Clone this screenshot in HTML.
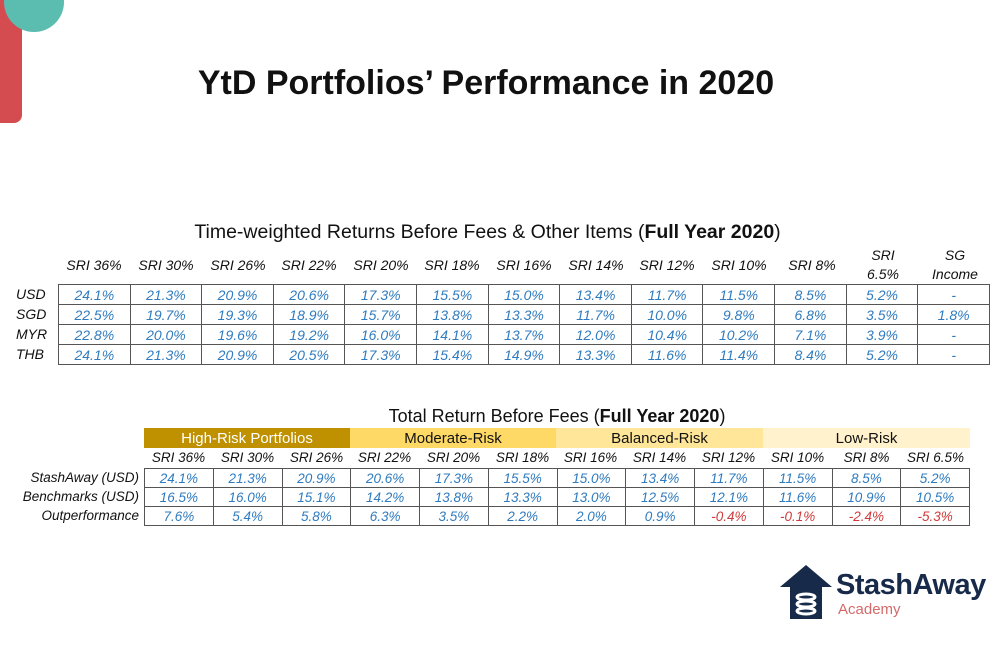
<!DOCTYPE html>
<html><head><meta charset="utf-8"><style>
*{margin:0;padding:0;box-sizing:border-box}
body{width:1000px;height:650px;background:#fff;position:relative;overflow:hidden;font-family:"Liberation Sans",Arial,sans-serif;color:#111}
.abs{position:absolute}
table{border-collapse:collapse;table-layout:fixed;position:absolute}
td{text-align:center;font-style:italic;font-size:14px;color:#2f7bbf;padding:0;white-space:nowrap}
.t1 td{border:1px solid #555;height:20px}
.t2 td{border:1px solid #555;height:19px;font-size:13.5px}
.r{color:#d03a3a!important}
.hdr{font-style:italic;font-size:14px;color:#111;text-align:center;position:absolute}
.lab{font-style:italic;font-size:14px;color:#111;position:absolute}
</style></head><body>
<div class="abs" style="left:0;top:0;width:22px;height:123px;background:#d44b50;border-bottom-right-radius:8px"></div>
<div class="abs" style="left:4px;top:-28px;width:60px;height:60px;border-radius:50%;background:#5bbcb0"></div>
<div class="abs" style="left:0;width:972px;top:64px;text-align:center;font-size:34px;font-weight:bold">YtD Portfolios’ Performance in 2020</div>

<div class="abs" style="left:0;width:975px;top:221px;text-align:center;font-size:19.5px">Time-weighted Returns Before Fees &amp; Other Items (<b>Full Year 2020</b>)</div>
<div class="hdr" style="left:58px;top:257px;width:72px">SRI 36%</div>
<div class="hdr" style="left:130px;top:257px;width:72px">SRI 30%</div>
<div class="hdr" style="left:202px;top:257px;width:72px">SRI 26%</div>
<div class="hdr" style="left:273px;top:257px;width:72px">SRI 22%</div>
<div class="hdr" style="left:345px;top:257px;width:72px">SRI 20%</div>
<div class="hdr" style="left:416px;top:257px;width:72px">SRI 18%</div>
<div class="hdr" style="left:488px;top:257px;width:72px">SRI 16%</div>
<div class="hdr" style="left:560px;top:257px;width:72px">SRI 14%</div>
<div class="hdr" style="left:631px;top:257px;width:72px">SRI 12%</div>
<div class="hdr" style="left:703px;top:257px;width:72px">SRI 10%</div>
<div class="hdr" style="left:776px;top:257px;width:72px">SRI 8%</div>
<div class="hdr" style="left:847px;top:246px;width:72px;line-height:19px">SRI<br>6.5%</div>
<div class="hdr" style="left:919px;top:246px;width:72px;line-height:19px">SG<br>Income</div>
<div class="lab" style="left:16px;top:286px">USD</div>
<div class="lab" style="left:16px;top:306px">SGD</div>
<div class="lab" style="left:16px;top:326px">MYR</div>
<div class="lab" style="left:16px;top:346px">THB</div>
<table class="t1" style="left:58px;top:284px;width:932px">
<tr><td>24.1%</td><td>21.3%</td><td>20.9%</td><td>20.6%</td><td>17.3%</td><td>15.5%</td><td>15.0%</td><td>13.4%</td><td>11.7%</td><td>11.5%</td><td>8.5%</td><td>5.2%</td><td>-</td></tr>
<tr><td>22.5%</td><td>19.7%</td><td>19.3%</td><td>18.9%</td><td>15.7%</td><td>13.8%</td><td>13.3%</td><td>11.7%</td><td>10.0%</td><td>9.8%</td><td>6.8%</td><td>3.5%</td><td>1.8%</td></tr>
<tr><td>22.8%</td><td>20.0%</td><td>19.6%</td><td>19.2%</td><td>16.0%</td><td>14.1%</td><td>13.7%</td><td>12.0%</td><td>10.4%</td><td>10.2%</td><td>7.1%</td><td>3.9%</td><td>-</td></tr>
<tr><td>24.1%</td><td>21.3%</td><td>20.9%</td><td>20.5%</td><td>17.3%</td><td>15.4%</td><td>14.9%</td><td>13.3%</td><td>11.6%</td><td>11.4%</td><td>8.4%</td><td>5.2%</td><td>-</td></tr>
</table>

<div class="abs" style="left:144px;width:826px;top:406px;text-align:center;font-size:18px">Total Return Before Fees (<b>Full Year 2020</b>)</div>
<div class="abs" style="left:144px;top:428px;width:206px;height:20px;background:#bf9000;color:#fff;text-align:center;font-size:15px;line-height:21px">High-Risk Portfolios</div>
<div class="abs" style="left:350px;top:428px;width:206px;height:20px;background:#ffd966;text-align:center;font-size:15px;line-height:21px">Moderate-Risk</div>
<div class="abs" style="left:556px;top:428px;width:207px;height:20px;background:#ffe699;text-align:center;font-size:15px;line-height:21px">Balanced-Risk</div>
<div class="abs" style="left:763px;top:428px;width:207px;height:20px;background:#fff2cc;text-align:center;font-size:15px;line-height:21px">Low-Risk</div>
<div class="hdr" style="left:144px;top:450px;width:69px;font-size:13.5px">SRI 36%</div>
<div class="hdr" style="left:213px;top:450px;width:69px;font-size:13.5px">SRI 30%</div>
<div class="hdr" style="left:282px;top:450px;width:69px;font-size:13.5px">SRI 26%</div>
<div class="hdr" style="left:350px;top:450px;width:69px;font-size:13.5px">SRI 22%</div>
<div class="hdr" style="left:419px;top:450px;width:69px;font-size:13.5px">SRI 20%</div>
<div class="hdr" style="left:488px;top:450px;width:69px;font-size:13.5px">SRI 18%</div>
<div class="hdr" style="left:556px;top:450px;width:69px;font-size:13.5px">SRI 16%</div>
<div class="hdr" style="left:625px;top:450px;width:69px;font-size:13.5px">SRI 14%</div>
<div class="hdr" style="left:694px;top:450px;width:69px;font-size:13.5px">SRI 12%</div>
<div class="hdr" style="left:763px;top:450px;width:69px;font-size:13.5px">SRI 10%</div>
<div class="hdr" style="left:832px;top:450px;width:69px;font-size:13.5px">SRI 8%</div>
<div class="hdr" style="left:901px;top:450px;width:69px;font-size:13.5px">SRI 6.5%</div>
<div class="lab" style="right:861px;top:470px;font-size:13.5px">StashAway (USD)</div>
<div class="lab" style="right:861px;top:489px;font-size:13.5px">Benchmarks (USD)</div>
<div class="lab" style="right:861px;top:508px;font-size:13.5px">Outperformance</div>
<table class="t2" style="left:144px;top:468px;width:826px">
<tr><td>24.1%</td><td>21.3%</td><td>20.9%</td><td>20.6%</td><td>17.3%</td><td>15.5%</td><td>15.0%</td><td>13.4%</td><td>11.7%</td><td>11.5%</td><td>8.5%</td><td>5.2%</td></tr>
<tr><td>16.5%</td><td>16.0%</td><td>15.1%</td><td>14.2%</td><td>13.8%</td><td>13.3%</td><td>13.0%</td><td>12.5%</td><td>12.1%</td><td>11.6%</td><td>10.9%</td><td>10.5%</td></tr>
<tr><td>7.6%</td><td>5.4%</td><td>5.8%</td><td>6.3%</td><td>3.5%</td><td>2.2%</td><td>2.0%</td><td>0.9%</td><td class="r">-0.4%</td><td class="r">-0.1%</td><td class="r">-2.4%</td><td class="r">-5.3%</td></tr>
</table>

<svg class="abs" style="left:778px;top:563px" width="56" height="58" viewBox="0 0 56 58">
<polygon points="28,2 2,24 12,24 12,56 44,56 44,24 54,24" fill="#172a4a"/>
<g fill="none" stroke="#fff" stroke-width="3"><ellipse cx="28" cy="34" rx="9" ry="3"/><ellipse cx="28" cy="41" rx="9" ry="3"/><ellipse cx="28" cy="48" rx="9" ry="3"/></g>
</svg>
<div class="abs" style="left:836px;top:569px;font-size:29px;font-weight:bold;color:#172a4a;letter-spacing:-0.5px">StashAway</div>
<div class="abs" style="left:838px;top:601px;font-size:15px;color:#d46a6a">Academy</div>
</body></html>
